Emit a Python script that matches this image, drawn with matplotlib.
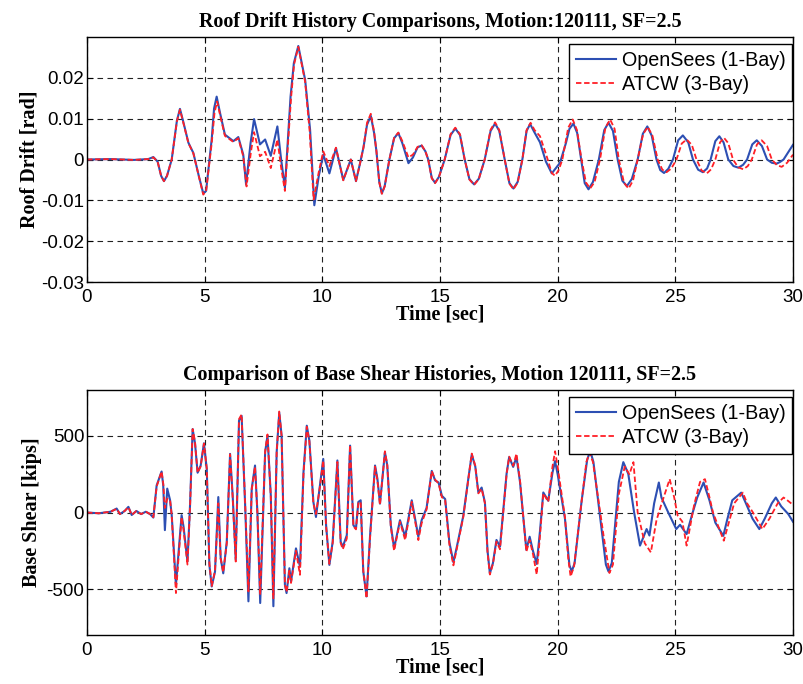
import matplotlib
matplotlib.use('Agg')
import matplotlib.pyplot as plt

plt.rcParams['axes.unicode_minus'] = False

# Roof drift, OpenSees (1-Bay)
drift_os_t = [0, 1.0, 2.0, 2.6, 2.82, 3.0, 3.15, 3.27, 3.4, 3.6, 3.82, 3.95, 4.08, 4.31, 4.52, 4.75,
              4.94, 5.06, 5.3, 5.4, 5.51, 5.65, 5.86, 6.22, 6.43, 6.64, 6.76, 6.95, 7.10, 7.35, 7.57,
              7.81, 8.09, 8.25, 8.41, 8.65, 8.79, 8.98, 9.27, 9.48, 9.66, 9.85, 10.04, 10.30, 10.58,
              10.89, 11.21, 11.43, 11.6, 11.75, 11.9, 12.06, 12.2, 12.30, 12.42, 12.53, 12.65, 12.85,
              13.05, 13.23, 13.4, 13.66, 13.85, 14.05, 14.22, 14.38, 14.50, 14.65, 14.79, 14.95, 15.2,
              15.45, 15.65, 15.85, 16.05, 16.25, 16.45, 16.65, 16.9, 17.15, 17.34, 17.52, 17.75, 17.95,
              18.12, 18.3, 18.5, 18.68, 18.83, 19.0, 19.25, 19.5, 19.75, 20.10, 20.35, 20.5, 20.67,
              20.83, 21.0, 21.15, 21.31, 21.5, 21.75, 21.98, 22.16, 22.35, 22.55, 22.75, 22.94, 23.15,
              23.4, 23.62, 23.81, 24.0, 24.2, 24.36, 24.52, 24.7, 24.9, 25.12, 25.32, 25.55, 25.75,
              25.97, 26.17, 26.35, 26.5, 26.7, 26.87, 27.05, 27.25, 27.47, 27.68, 27.88, 28.05, 28.27,
              28.46, 28.68, 28.9, 29.1, 29.31, 29.45, 29.6, 30.0]
drift_os = [0, 0.0001, -0.0001, 0.0001, 0.0006, -0.0005, -0.0040, -0.0053, -0.0040, 0.0, 0.0095,
            0.0124, 0.0095, 0.0041, 0.0016, -0.004, -0.0083, -0.0077, 0.005, 0.0125, 0.0154, 0.0115,
            0.0061, 0.0045, 0.0055, 0.0012, -0.0061, 0.004, 0.0099, 0.0037, 0.0049, 0.0009, 0.0081,
            0.0, -0.0069, 0.0154, 0.0236, 0.0278, 0.0195, 0.0073, -0.0112, -0.004, 0.0012, -0.0034,
            0.0028, -0.0050, 0.0, -0.0053, -0.001, 0.003, 0.0085, 0.0107, 0.0065, 0.002, -0.0055,
            -0.0083, -0.0065, 0.0, 0.0052, 0.0065, 0.004, -0.0009, 0.0005, 0.003, 0.0034, 0.002, 0.0,
            -0.0045, -0.0057, -0.0043, 0.0, 0.006, 0.0076, 0.006, 0.0, -0.0048, -0.0061, -0.0047, 0.0,
            0.007, 0.0088, 0.007, 0.0, -0.0058, -0.0071, -0.0055, 0.0, 0.0070, 0.0087, 0.0068, 0.0042,
            -0.0005, -0.0034, -0.0008, 0.004, 0.0075, 0.0088, 0.0065, 0.0, -0.0058, -0.0073, -0.0055,
            0.0, 0.0072, 0.0090, 0.007, 0.0, -0.0052, -0.0065, -0.0048, 0.0, 0.0063, 0.0081, 0.0058,
            0.0, -0.0026, -0.0033, -0.0023, 0.0, 0.0047, 0.0059, 0.0042, 0.0, -0.0025, -0.0031, -0.0022,
            0.0, 0.0045, 0.0057, 0.0042, 0.0, -0.0016, -0.0020, -0.0013, 0.0, 0.0037, 0.0047, 0.0033,
            0.0, -0.0008, -0.0010, -0.0006, 0.0, 0.0036]

# Roof drift, ATCW (3-Bay)
drift_at_t = [0, 1.0, 2.0, 2.6, 2.82, 3.0, 3.15, 3.27, 3.4, 3.6, 3.82, 3.95, 4.08, 4.31, 4.52, 4.75,
              4.94, 5.06, 5.3, 5.42, 5.53, 5.67, 5.86, 6.22, 6.43, 6.64, 6.78, 6.97, 7.10, 7.35, 7.57,
              7.81, 8.09, 8.25, 8.41, 8.67, 8.80, 8.98, 9.27, 9.46, 9.63, 9.85, 10.04, 10.30, 10.58,
              10.89, 11.21, 11.43, 11.6, 11.75, 11.9, 12.06, 12.2, 12.30, 12.42, 12.53, 12.65, 12.85,
              13.05, 13.23, 13.4, 13.66, 13.85, 14.05, 14.22, 14.38, 14.5, 14.65, 14.79, 14.95, 15.2,
              15.45, 15.65, 15.85, 16.05, 16.25, 16.45, 16.65, 16.9, 17.15, 17.34, 17.52, 17.75, 17.95,
              18.12, 18.3, 18.5, 18.68, 18.85, 19.02, 19.25, 19.55, 19.75, 19.89, 20.05, 20.2, 20.45,
              20.64, 20.82, 21.0, 21.2, 21.38, 21.57, 21.8, 22.03, 22.23, 22.42, 22.6, 22.82, 23.01,
              23.2, 23.4, 23.63, 23.83, 24.03, 24.25, 24.45, 24.63, 24.83, 25.05, 25.27, 25.48, 25.7,
              25.9, 26.12, 26.34, 26.52, 26.7, 26.9, 27.07, 27.25, 27.45, 27.67, 27.89, 28.08, 28.25,
              28.47, 28.67, 28.9, 29.1, 29.32, 29.52, 29.75, 30.0]
drift_at = [0, 0.0001, -0.0001, 0.0001, 0.0005, -0.0005, -0.0040, -0.0053, -0.0040, 0.0, 0.0093,
            0.0122, 0.0093, 0.0040, 0.0015, -0.004, -0.0086, -0.0078, 0.004, 0.0115, 0.0142, 0.0105,
            0.0058, 0.0043, 0.0052, 0.0008, -0.0066, 0.002, 0.0067, 0.0008, 0.0019, -0.0021, 0.0049,
            -0.002, -0.0077, 0.0150, 0.0233, 0.0276, 0.0190, 0.0070, -0.0098, -0.003, 0.0020, -0.0016,
            0.0029, -0.0051, 0.0, -0.0053, -0.001, 0.003, 0.009, 0.0112, 0.0068, 0.002, -0.0056,
            -0.0084, -0.0066, 0.0, 0.0053, 0.0066, 0.0045, 0.0005, 0.0012, 0.0031, 0.0035, 0.002, 0.0,
            -0.0046, -0.0058, -0.0044, 0.0, 0.0062, 0.0078, 0.0062, 0.0, -0.0049, -0.0062, -0.0048,
            0.0, 0.0073, 0.0091, 0.0072, 0.0, -0.0059, -0.0073, -0.0057, 0.0, 0.0072, 0.0090, 0.0072,
            0.0057, 0.0005, -0.0033, -0.0040, -0.0025, 0.0, 0.0078, 0.0098, 0.0072, 0.0005, -0.0056,
            -0.0071, -0.0055, 0.0, 0.0078, 0.0098, 0.0075, 0.0, -0.0057, -0.0071, -0.0052, 0.0, 0.0062,
            0.0080, 0.0058, 0.0, -0.0025, -0.0031, -0.0022, 0.0, 0.0039, 0.0049, 0.0036, 0.0, -0.0027,
            -0.0034, -0.0024, 0.0, 0.0042, 0.0053, 0.0040, 0.0, -0.0019, -0.0024, -0.0016, 0.0, 0.0037,
            0.0047, 0.0033, 0.0, -0.0014, -0.0018, -0.0008, 0.0012]

# Base shear, OpenSees (1-Bay)
shear_os_t = [0, 0.5, 1.0, 1.26, 1.4, 1.6, 1.76, 1.9, 2.1, 2.3, 2.5, 2.68, 2.82, 2.96, 3.17, 3.24,
              3.31, 3.41, 3.53, 3.6, 3.78, 4.02, 4.1, 4.27, 4.38, 4.49, 4.59, 4.7, 4.83, 4.97, 5.09,
              5.2, 5.3, 5.44, 5.58, 5.68, 5.79, 5.94, 6.08, 6.19, 6.32, 6.46, 6.57, 6.72, 6.86, 7.0,
              7.14, 7.24, 7.36, 7.57, 7.67, 7.81, 7.92, 8.06, 8.17, 8.27, 8.41, 8.48, 8.6, 8.67, 8.88,
              9.05, 9.2, 9.34, 9.45, 9.62, 9.73, 9.9, 10.04, 10.16, 10.3, 10.44, 10.64, 10.78, 10.87,
              11.04, 11.18, 11.32, 11.43, 11.53, 11.63, 11.74, 11.88, 12.03, 12.24, 12.34, 12.45,
              12.66, 12.76, 12.91, 13.05, 13.3, 13.52, 13.8, 14.08, 14.22, 14.43, 14.65, 14.79, 14.94,
              15.08, 15.22, 15.4, 15.57, 15.71, 15.99, 16.21, 16.35, 16.5, 16.63, 16.77, 16.91, 17.02,
              17.12, 17.25, 17.4, 17.55, 17.83, 17.94, 18.11, 18.25, 18.4, 18.67, 18.81, 18.95, 19.11,
              19.25, 19.39, 19.6, 19.78, 19.89, 20.0, 20.31, 20.5, 20.6, 20.72, 21.02, 21.25, 21.38,
              21.52, 21.9, 22.05, 22.16, 22.3, 22.6, 22.79, 23.0, 23.25, 23.5, 23.78, 23.9, 24.1, 24.3,
              24.41, 24.7, 25.04, 25.2, 25.48, 25.7, 25.93, 26.2, 26.45, 26.7, 27.04, 27.2, 27.42, 27.8,
              28.0, 28.28, 28.57, 28.8, 29.1, 29.27, 29.5, 29.8, 30.0]
shear_os = [0, -5, 5, 26, -10, 10, 37, -16, 10, -10, 5, -10, -33, 177, 268, 177, -115, 156, 81, -17,
            -472, -17, -90, -320, 54, 545, 452, 260, 307, 452, 285, -342, -483, -386, 101, -298, -397,
            -191, 383, 112, -307, 600, 632, 49, -580, 156, 307, 5, -591, 394, 502, 112, -612, 394, 653,
            502, -472, -526, -364, -450, -234, -353, 264, 567, 470, 69, -29, 177, 350, -83, -342, -191,
            340, -191, -224, -148, 437, -83, -104, 69, 80, -385, -548, -148, 307, 221, 58, 394, 307,
            -83, -234, -50, -158, 80, -158, -50, 30, 272, 210, 196, 109, 88, -195, -325, -228, -22, 228,
            379, 300, 131, 163, 65, -250, -398, -330, -179, -223, 254, 362, 298, 362, 200, -244, -158,
            -250, -336, -120, 131, 77, 260, 336, 250, -40, -344, -385, -330, 77, 340, 405, 330, -150,
            -340, -385, -330, 200, 329, 253, 0, -216, -108, -150, 60, 196, 98, 0, -108, -80, -141, -20,
            98, 196, 80, -66, -152, -50, 80, 130, 60, -40, -108, -40, 60, 98, 40, -10, -60]

# Base shear, ATCW (3-Bay)
shear_at_t = [0, 0.5, 1.0, 1.26, 1.4, 1.6, 1.76, 1.9, 2.1, 2.3, 2.5, 2.68, 2.82, 2.96, 3.17, 3.24,
              3.31, 3.41, 3.53, 3.6, 3.78, 4.02, 4.1, 4.27, 4.38, 4.49, 4.59, 4.7, 4.83, 4.97, 5.09,
              5.2, 5.3, 5.44, 5.58, 5.68, 5.79, 5.94, 6.08, 6.19, 6.32, 6.46, 6.57, 6.72, 6.86, 7.0,
              7.14, 7.24, 7.36, 7.57, 7.67, 7.81, 7.92, 8.06, 8.17, 8.27, 8.41, 8.48, 8.6, 8.67, 8.88,
              9.05, 9.2, 9.34, 9.45, 9.62, 9.73, 9.9, 10.04, 10.16, 10.3, 10.44, 10.64, 10.78, 10.87,
              11.04, 11.18, 11.32, 11.43, 11.53, 11.63, 11.74, 11.88, 12.03, 12.24, 12.34, 12.45,
              12.66, 12.76, 12.91, 13.05, 13.3, 13.52, 13.8, 14.08, 14.22, 14.43, 14.65, 14.79, 14.94,
              15.08, 15.22, 15.4, 15.57, 15.71, 15.99, 16.21, 16.35, 16.5, 16.63, 16.77, 16.91, 17.02,
              17.12, 17.25, 17.4, 17.55, 17.83, 17.94, 18.11, 18.25, 18.4, 18.67, 18.81, 18.95, 19.11,
              19.25, 19.39, 19.6, 19.78, 19.89, 20.0, 20.31, 20.45, 20.55, 20.7, 21.0, 21.22, 21.35,
              21.5, 21.95, 22.2, 22.35, 22.6, 22.85, 23.05, 23.22, 23.4, 23.7, 23.96, 24.2, 24.4, 24.76,
              24.95, 25.1, 25.3, 25.48, 25.8, 26.05, 26.26, 26.45, 26.6, 27.06, 27.5, 27.87, 28.05, 28.3,
              28.7, 29.0, 29.35, 29.6, 29.8, 30.0]
shear_at = [0, -5, 5, 24, -10, 10, 35, -16, 10, -10, 5, -10, -30, 170, 268, 190, 30, 90, 81, -17,
            -526, -30, -110, -340, 40, 545, 460, 260, 300, 450, 285, -330, -480, -380, 60, -300, -390,
            -200, 380, 100, -320, 610, 640, 60, -515, 150, 300, 0, -537, 400, 510, 110, -560, 390, 660,
            500, -470, -520, -380, -460, -250, -407, 250, 560, 465, 60, -10, 170, 340, -90, -335, -200,
            330, -200, -240, -170, 440, -90, -110, 60, 70, -380, -560, -160, 300, 210, 50, 400, 310,
            -90, -250, -60, -180, 70, -180, -70, 20, 270, 215, 190, 100, 80, -210, -345, -240, -30, 225,
            385, 305, 125, 155, 60, -260, -405, -335, -190, -240, 250, 365, 305, 385, 210, -255, -180,
            -270, -405, -150, 125, 70, 300, 400, 300, -30, -300, -418, -350, 50, 330, 390, 330, -150,
            -395, -340, 120, 300, 250, 329, 0, -200, -260, -50, 50, 218, 100, -20, -60, -216, 50, 200,
            218, 100, 0, -184, 60, 130, 60, 0, -108, -40, 60, 98, 75, 50]

blue = '#2d4fb3'
red = '#ff1f26'
grid_style = dict(color='#222222', linestyle=(0, (5, 4)), linewidth=0.8)

fig = plt.figure(figsize=(8.04, 6.84), dpi=100)
ax1 = fig.add_axes([0.1082, 0.5877, 0.8781, 0.3582])
ax2 = fig.add_axes([0.1082, 0.0716, 0.8781, 0.3582])

title_font = dict(family='Liberation Serif', fontweight='bold', fontsize=14.4)
label_font = dict(family='Liberation Serif', fontweight='bold', fontsize=14.5)

ax1.plot(drift_os_t, drift_os, color=blue, lw=1.5, label='OpenSees (1-Bay)')
ax1.plot(drift_at_t, drift_at, color=red, lw=1.3, linestyle=(0, (3, 1.5)), label='ATCW (3-Bay)')
ax1.set_ylim(-0.03, 0.03)
ax1.set_yticks([-0.03, -0.02, -0.01, 0, 0.01, 0.02])
ax1.set_yticklabels(['-0.03', '-0.02', '-0.01', '0', '0.01', '0.02'])
ax1.set_title('Roof Drift History Comparisons, Motion:120111, SF=2.5', pad=7, **title_font)
ax1.set_ylabel('Roof Drift [rad]', labelpad=1, **label_font)

ax2.plot(shear_os_t, shear_os, color=blue, lw=1.5, label='OpenSees (1-Bay)')
ax2.plot(shear_at_t, shear_at, color=red, lw=1.3, linestyle=(0, (3, 1.5)), label='ATCW (3-Bay)')
ax2.set_ylim(-800, 800)
ax2.set_yticks([-500, 0, 500])
ax2.set_title('Comparison of Base Shear Histories, Motion 120111, SF=2.5', pad=7, **title_font)
ax2.set_ylabel('Base Shear [kips]', labelpad=3, **label_font)

for ax in (ax1, ax2):
    ax.set_xlim(0, 30)
    ax.set_xticks([0, 5, 10, 15, 20, 25, 30])
    ax.set_xlabel('Time [sec]', labelpad=-1, **label_font)
    ax.grid(True, **grid_style)
    ax.tick_params(axis='both', direction='in', top=True, right=True, length=4, labelsize=13.5)
    ax.tick_params(axis='x', pad=5)
    ax.tick_params(axis='y', pad=2)
    for lbl in ax.get_xticklabels() + ax.get_yticklabels():
        lbl.set_family('Liberation Sans')
    for sp in ax.spines.values():
        sp.set_linewidth(1.0)
    leg = ax.legend(loc='upper right', bbox_to_anchor=(0.999, 0.972), borderaxespad=0,
                    fancybox=False, framealpha=1, edgecolor='black', handlelength=2.0,
                    handletextpad=0.3, borderpad=0.35, labelspacing=0.25,
                    prop={'family': 'Liberation Sans', 'size': 14.2})
    leg.get_frame().set_linewidth(1.0)

fig.savefig('out.png', dpi=100)
